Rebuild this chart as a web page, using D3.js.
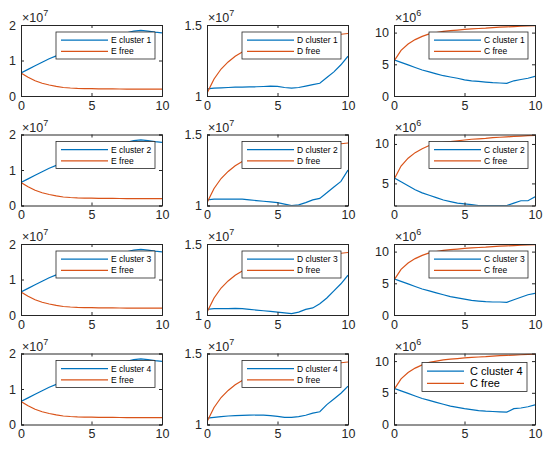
<!DOCTYPE html>
<html><head><meta charset="utf-8">
<script src="https://cdn.jsdelivr.net/npm/d3@7"></script>
<style>body{margin:0;background:#fff}text{font-family:"Liberation Sans",Arial,sans-serif}</style>
</head><body><svg id="c" width="550" height="449"></svg>
<script>
const xs = d3.range(0, 10.01, 0.5);
const xTicks = [0, 5, 10];
const eFree = [6.5,5.3,4.3,3.6,3.1,2.7,2.4,2.25,2.15,2.1,2.05,2.0,2.0,1.98,1.97,1.96,1.95,1.95,1.95,1.95,1.95].map(v=>v*1e6);
const eCl = [6.5,7.5,8.5,9.5,10.5,11.3,12,12.8,13.5,14.2,15,15.6,16.2,16.8,17.3,17.8,18.3,18.5,18.3,18.0,17.8].map(v=>v*1e6);
const dFree = [1.02,1.12,1.19,1.24,1.28,1.31,1.33,1.35,1.36,1.37,1.38,1.39,1.40,1.405,1.41,1.415,1.42,1.425,1.43,1.435,1.44].map(v=>v*1e7);
const dCl1 = [1.05,1.055,1.057,1.06,1.062,1.063,1.064,1.065,1.067,1.07,1.068,1.06,1.055,1.06,1.07,1.08,1.09,1.13,1.17,1.22,1.28].map(v=>v*1e7);
const dCl2 = [1.04,1.045,1.045,1.045,1.045,1.045,1.04,1.035,1.03,1.025,1.02,1.01,1.0,1.005,1.02,1.04,1.05,1.09,1.13,1.17,1.25].map(v=>v*1e7);
const dCl3 = [1.04,1.045,1.045,1.045,1.047,1.045,1.04,1.035,1.03,1.025,1.02,1.015,1.01,1.02,1.04,1.05,1.08,1.12,1.17,1.22,1.28].map(v=>v*1e7);
const dCl4 = [1.045,1.05,1.055,1.06,1.062,1.064,1.066,1.067,1.066,1.062,1.057,1.05,1.05,1.055,1.065,1.08,1.09,1.14,1.18,1.22,1.27].map(v=>v*1e7);
const cFree = [5.5,7.2,8.2,8.9,9.4,9.8,10.0,10.2,10.3,10.4,10.5,10.6,10.65,10.7,10.8,10.85,10.9,10.95,11.0,11.05,11.1].map(v=>v*1e6);
const cCl1 = [5.7,5.3,4.9,4.5,4.1,3.8,3.5,3.2,3.0,2.8,2.55,2.4,2.3,2.2,2.1,2.05,2.0,2.4,2.6,2.8,3.1].map(v=>v*1e6);
const cCl2 = [5.7,5.2,4.7,4.2,3.8,3.5,3.2,2.9,2.7,2.5,2.4,2.3,2.2,2.2,2.2,2.2,2.2,2.5,2.8,2.8,3.3].map(v=>v*1e6);
const cCl3 = [5.7,5.3,4.9,4.5,4.1,3.8,3.5,3.2,2.9,2.7,2.5,2.3,2.2,2.1,2.05,2.05,2.0,2.4,2.8,3.2,3.4].map(v=>v*1e6);
const cCl4 = [5.7,5.3,4.9,4.5,4.1,3.8,3.5,3.2,2.9,2.7,2.5,2.35,2.2,2.1,2.05,2.0,1.95,2.5,2.6,2.8,3.1].map(v=>v*1e6);

const eTicks = [0,1e7,2e7], eLabels = ["0","1","2"];
const dTicks = [1e7,1.5e7], dLabels = ["1","1.5"];
const cTicks = [0,5e6,1e7], cLabels = ["0","5","10"];

const cols = [
 {name:"E", left:21, dom:[0,2e7], ticks:eTicks, labels:eLabels, exp:"7", free:eFree, cl:[eCl,eCl,eCl,eCl]},
 {name:"D", left:207, dom:[1e7,1.5e7], ticks:dTicks, labels:dLabels, exp:"7", free:dFree, cl:[dCl1,dCl2,dCl3,dCl4]},
 {name:"C", left:394, dom:[0,1.12e7], ticks:cTicks, labels:cLabels, exp:"6", free:cFree, cl:[cCl1,cCl2,cCl3,cCl4]}
];
const W = 141, H = 71, tops = [25,134.5,244,353.5];
const blue = "#0072BD", orange = "#D95319";
const svg = d3.select("#c");

cols.forEach((c, ci) => tops.forEach((top, ri) => {
  let dom = c.dom;
  if (ci===2 && ri===1) dom = [2.2e6, 1.12e7];
  const x = d3.scaleLinear().domain([0,10]).range([c.left, c.left+W]);
  const y = d3.scaleLinear().domain(dom).range([top+H, top]);
  const g = svg.append("g");
  const id = "cp"+ci+ri;
  g.append("clipPath").attr("id", id).append("rect").attr("x",c.left).attr("y",top).attr("width",W).attr("height",H);
  const line = d3.line().x((d,i)=>x(xs[i])).y(d=>y(d));
  g.append("path").datum(c.cl[ri]).attr("d",line).attr("fill","none").attr("stroke",blue).attr("stroke-width",1.2).attr("clip-path",`url(#${id})`);
  g.append("path").datum(c.free).attr("d",line).attr("fill","none").attr("stroke",orange).attr("stroke-width",1.2).attr("clip-path",`url(#${id})`);
  const ticks = c.ticks.filter(t=>t>=dom[0]&&t<=dom[1]);
  g.append("g").attr("transform",`translate(0,${top+H})`).call(d3.axisBottom(x).tickValues(xTicks).tickFormat(d3.format("d")).tickSize(-3).tickPadding(5));
  g.append("g").attr("transform",`translate(${c.left},0)`).call(d3.axisLeft(y).tickValues(ticks).tickFormat(d=>c.labels[c.ticks.indexOf(d)]).tickSize(-3).tickPadding(5));
  g.append("g").attr("transform",`translate(0,${top})`).call(d3.axisTop(x).tickValues(xTicks).tickFormat("").tickSize(-3));
  g.append("g").attr("transform",`translate(${c.left+W},0)`).call(d3.axisRight(y).tickValues(ticks).tickFormat("").tickSize(-3));
  g.selectAll(".domain").attr("stroke","#262626");
  g.selectAll(".tick line").attr("stroke","#262626");
  g.selectAll(".tick text").attr("font-size",12.5).attr("fill","#262626").attr("font-family","Liberation Sans, Arial");
  const et = g.append("text").attr("x",c.left+1).attr("y",top-3).attr("font-size",12.5).attr("fill","#262626");
  et.append("tspan").text("×10");
  et.append("tspan").attr("dy",-6).attr("font-size",9).text(c.exp);
  const big = (ci===2 && ri===3);
  const lw = big ? 105 : 99, lh = big ? 29 : 27, fs = big ? 11 : 8.5;
  const lx = big ? c.left+W-113 : c.left+W-7-lw, ly = big ? top+9 : top+7;
  const lg = g.append("g");
  lg.append("rect").attr("x",lx).attr("y",ly).attr("width",lw).attr("height",lh).attr("fill","#fff").attr("stroke","#262626").attr("stroke-width",0.8);
  const labs = [[c.name+" cluster "+(ri+1), blue],[c.name+" free", orange]];
  labs.forEach((l,k)=>{
    const yy = ly + lh*(k===0?0.3:0.72);
    lg.append("line").attr("x1",lx+5).attr("x2",lx+(big?42:52)).attr("y1",yy).attr("y2",yy).attr("stroke",l[1]).attr("stroke-width",1.2);
    lg.append("text").attr("x",lx+(big?48:55)).attr("y",yy+fs*0.35).attr("font-size",fs).attr("fill","#000").text(l[0]);
  });
}));
</script></body></html>
